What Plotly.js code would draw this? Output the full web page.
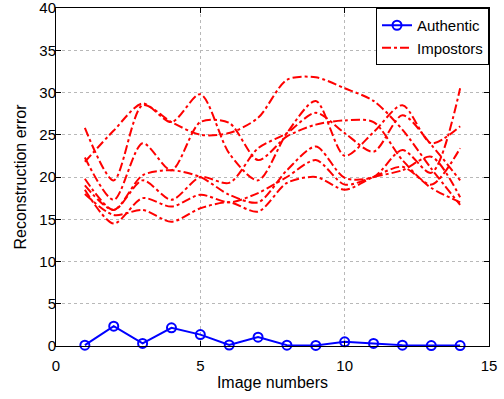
<!DOCTYPE html>
<html>
<head>
<meta charset="utf-8">
<script src="https://cdn.plot.ly/plotly-3.0.1.min.js"></script>
<style>html,body{margin:0;padding:0;background:#fff;}#chart{width:504px;height:399px;}</style>
</head>
<body>
<div id="chart"></div>
<script>
const imageNumbers = [1,2,3,4,5,6,7,8,9,10,11,12,13,14];
const authentic = [0.1, 2.35, 0.3, 2.15, 1.35, 0.12, 1.05, 0.1, 0.07, 0.5, 0.3, 0.1, 0.05, 0.05];
const impostorA = [25.8, 19.6, 28.5, 26.5, 25.0, 25.2, 27.0, 31.5, 31.8, 30.5, 29.0, 25.6, 21.0, 16.7];
const impostorB = [21.8, 25.5, 28.7, 26.5, 29.8, 22.8, 19.6, 25.2, 29.0, 22.5, 25.3, 28.5, 24.0, 26.0];
const impostorC = [22.3, 17.3, 24.0, 20.8, 26.5, 26.4, 22.0, 24.8, 26.2, 26.7, 26.5, 22.0, 19.1, 23.4];
const impostorD = [19.8, 16.1, 19.6, 17.3, 20.0, 19.3, 23.4, 25.2, 27.6, 25.2, 23.0, 27.3, 23.8, 19.6];
const impostorE = [19.0, 16.1, 20.2, 20.8, 20.0, 17.9, 17.0, 20.8, 23.6, 19.9, 20.0, 23.2, 20.5, 30.5];
const impostorF = [18.5, 14.5, 17.5, 16.5, 17.9, 17.0, 18.1, 20.0, 22.0, 19.1, 20.0, 20.8, 22.4, 17.6];
const impostorG = [18.0, 15.5, 16.1, 14.7, 16.3, 17.0, 15.9, 19.3, 20.0, 18.5, 20.0, 21.2, 18.7, 17.0];
const impostors = [impostorA, impostorB, impostorC, impostorD, impostorE, impostorF, impostorG];
const xTicks = [0, 5, 10, 15];
const yTicks = [0, 5, 10, 15, 20, 25, 30, 35, 40];

const FONT = 'Liberation Sans, Arial, sans-serif';
const traces = [{
  x: imageNumbers, y: authentic, type: 'scatter', mode: 'lines+markers', name: 'Authentic',
  cliponaxis: false,
  line: {color: '#0000ff', width: 2},
  marker: {symbol: 'circle-open', size: 9, color: '#0000ff', line: {width: 2, color: '#0000ff'}}
}];
impostors.forEach((vals, i) => {
  traces.push({
    x: imageNumbers, y: vals, type: 'scatter', mode: 'lines', name: 'Impostors',
    showlegend: i === 0, legendgroup: 'imp',
    line: {color: '#ff0000', width: 2, dash: 'dashdot', shape: 'spline', smoothing: 0.8}
  });
});

const axisCommon = {
  showline: true, linecolor: '#000', linewidth: 1, mirror: 'allticks',
  ticks: 'inside', ticklen: 5, tickcolor: '#000', ticklabeloverflow: 'allow',
  showgrid: true, gridcolor: '#b8b8b8', griddash: 'dot', gridwidth: 1,
  zeroline: false, tickfont: {family: FONT, size: 15, color: '#000'}
};

const layout = {
  width: 504, height: 399,
  margin: {l: 56, r: 15, t: 8, b: 53},
  paper_bgcolor: '#fff', plot_bgcolor: '#fff',
  showlegend: true,
  legend: {x: 1, y: 1, xanchor: 'right', yanchor: 'top', bgcolor: '#fff', bordercolor: '#000', borderwidth: 1,
    font: {family: FONT, size: 15, color: '#000'}, tracegroupgap: 0},
  xaxis: Object.assign({}, axisCommon, {range: [0, 15], tickvals: xTicks, ticklabelstandoff: 6,
    title: {text: 'Image numbers', font: {family: FONT, size: 16, color: '#000'}, standoff: 3}}),
  yaxis: Object.assign({}, axisCommon, {range: [0, 40], tickvals: yTicks, ticklabelstandoff: -4,
    title: {text: 'Reconstruction error', font: {family: FONT, size: 16, color: '#000'}, standoff: 8}})
};

Plotly.newPlot('chart', traces, layout, {displayModeBar: false, staticPlot: true});
</script>
</body>
</html>
